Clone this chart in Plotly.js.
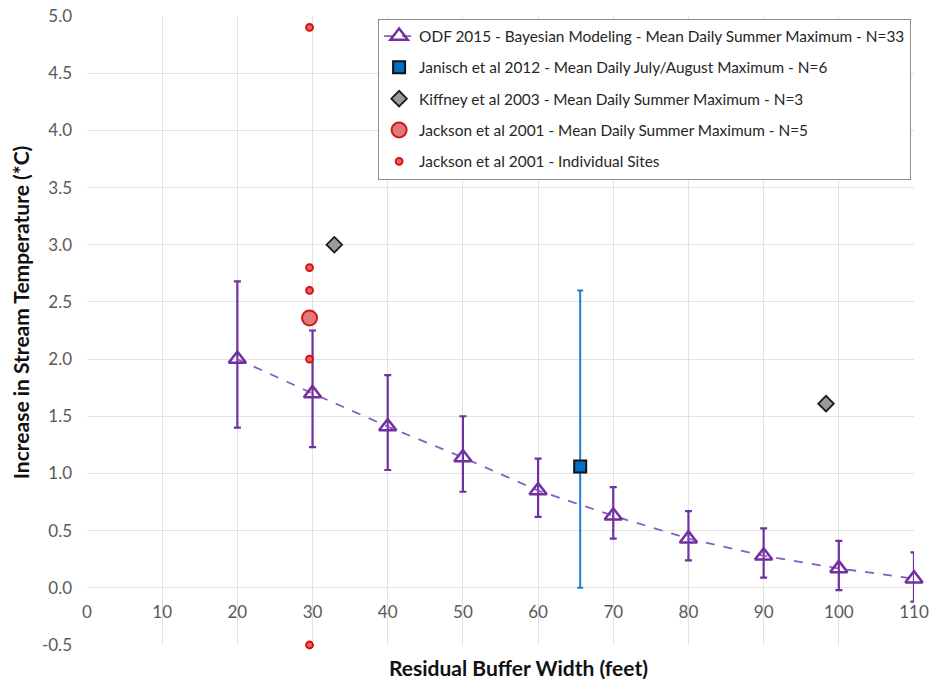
<!DOCTYPE html>
<html>
<head>
<meta charset="utf-8">
<script src="https://cdn.plot.ly/plotly-3.0.1.min.js"></script>
<style>html,body{margin:0;padding:0;background:#fff;}#chart{width:932px;height:683px;}</style>
</head>
<body>
<div id="chart"></div>
<script>
// ODF 2015 - Bayesian modeling
const odfX = [20, 30, 40, 50, 60, 70, 80, 90, 100, 110];
const odfMean = [2.00, 1.70, 1.41, 1.14, 0.85, 0.63, 0.43, 0.28, 0.17, 0.08];
const odfUpper = [2.68, 2.25, 1.86, 1.50, 1.13, 0.88, 0.67, 0.52, 0.41, 0.31];
const odfLower = [1.40, 1.23, 1.03, 0.84, 0.62, 0.43, 0.24, 0.09, -0.02, -0.12];

// Janisch et al 2012
const janischX = [65.6];
const janischMean = [1.06];
const janischUpper = [2.60];
const janischLower = [0.0];

// Kiffney et al 2003
const kiffneyX = [32.9, 98.3];
const kiffneyMean = [3.0, 1.61];

// Jackson et al 2001
const jacksonMeanX = [29.6];
const jacksonMeanY = [2.36];
const jacksonSitesX = [29.6, 29.6, 29.6, 29.6, 29.6];
const jacksonSitesY = [4.9, 2.8, 2.6, 2.0, -0.5];

const xTicks = [0, 10, 20, 30, 40, 50, 60, 70, 80, 90, 100, 110];
const yTicks = [-0.5, 0, 0.5, 1.0, 1.5, 2.0, 2.5, 3.0, 3.5, 4.0, 4.5, 5.0];

const legendNames = [
  'ODF 2015 - Bayesian Modeling - Mean Daily Summer Maximum - N=33',
  'Janisch et al 2012 - Mean Daily July/August Maximum - N=6',
  'Kiffney et al 2003 - Mean Daily Summer Maximum - N=3',
  'Jackson et al 2001 - Mean Daily Summer Maximum - N=5',
  'Jackson et al 2001 - Individual Sites'
];

const xTitle = 'Residual Buffer Width (feet)';
const yTitle = 'Increase in Stream Temperature (*C)';

const FONT = 'Lato, "Open Sans", sans-serif';

const traces = [
  {
    x: odfX, y: odfMean, type: 'scatter', mode: 'lines+markers',
    name: legendNames[0], legendgroup: 'g1',
    line: {color: '#8a5ac2', width: 1.8, dash: 'dash'},
    marker: {symbol: 'triangle-up-open', size: 15, color: '#7030A0', line: {width: 2.5, color: '#7030A0'}},
    error_y: {type: 'data', symmetric: false,
      array: odfUpper.map((u, i) => u - odfMean[i]),
      arrayminus: odfLower.map((l, i) => odfMean[i] - l),
      color: '#7030A0', thickness: 2.2, width: 3.5},
    cliponaxis: false
  },
  {
    x: janischX, y: janischMean, type: 'scatter', mode: 'markers',
    name: legendNames[1], legendgroup: 'g2',
    marker: {symbol: 'square', size: 12, color: '#0070C0', line: {width: 2, color: '#111111'}},
    error_y: {type: 'data', symmetric: false,
      array: janischUpper.map((u, i) => u - janischMean[i]),
      arrayminus: janischLower.map((l, i) => janischMean[i] - l),
      color: '#1f7fd0', thickness: 2, width: 3},
    cliponaxis: false
  },
  {
    x: kiffneyX, y: kiffneyMean, type: 'scatter', mode: 'markers',
    name: legendNames[2], legendgroup: 'g3',
    marker: {symbol: 'diamond', size: 12, color: '#9a9a9a', line: {width: 1.8, color: '#1a1a1a'}},
    cliponaxis: false
  },
  {
    x: jacksonMeanX, y: jacksonMeanY, type: 'scatter', mode: 'markers',
    name: legendNames[3], legendgroup: 'g4',
    marker: {symbol: 'circle', size: 15, color: '#e07a7a', line: {width: 2, color: '#d01818'}},
    cliponaxis: false
  },
  {
    x: jacksonSitesX, y: jacksonSitesY, type: 'scatter', mode: 'markers',
    name: legendNames[4], legendgroup: 'g5',
    marker: {symbol: 'circle', size: 7, color: '#e86060', line: {width: 1.8, color: '#d80c0c'}},
    cliponaxis: false
  }
];

const layout = {
  width: 932, height: 683,
  margin: {l: 87, r: 18, t: 16, b: 38},
  paper_bgcolor: '#ffffff', plot_bgcolor: '#ffffff',
  font: {family: FONT, color: '#595959', size: 15},
  showlegend: true,
  xaxis: {
    range: [0, 110], tickvals: xTicks, ticktext: xTicks.map(String),
    showgrid: true, gridcolor: '#e3e3e3', gridwidth: 1,
    zeroline: false, showline: false, ticks: '',
    anchor: 'free', position: 0.5 / 5.5,
    ticklabelstandoff: 12,
    tickfont: {family: FONT, size: 17, color: '#595959'}
  },
  yaxis: {
    range: [-0.5, 5.0], tickvals: yTicks, ticktext: yTicks.map(v => v.toFixed(1)),
    showgrid: true, gridcolor: '#e3e3e3', gridwidth: 1,
    zeroline: false, showline: false, ticks: '',
    ticklabelstandoff: 14,
    tickfont: {family: FONT, size: 17, color: '#595959'}
  },
  annotations: [
    {
      text: '<b>' + xTitle + '</b>', xref: 'paper', yref: 'paper',
      x: 0.522, y: 0, yshift: -22, xanchor: 'center', yanchor: 'middle', showarrow: false,
      font: {family: FONT, size: 21, color: '#111111'}
    },
    {
      text: '<b>' + yTitle + '</b>', xref: 'paper', yref: 'paper',
      x: -0.081, y: 0.529, xanchor: 'center', yanchor: 'middle', textangle: -90, showarrow: false,
      font: {family: FONT, size: 21, color: '#111111'}
    }
  ],
  legend: {
    x: 0.352, y: 0.996, xanchor: 'left', yanchor: 'top',
    bgcolor: '#ffffff', bordercolor: '#8c8c8c', borderwidth: 1,
    traceorder: 'grouped', tracegroupgap: 8.3,
    font: {family: FONT, size: 15.4, color: '#262626'}
  }
};

Plotly.newPlot('chart', traces, layout, {displayModeBar: false, staticPlot: true});
</script>
</body>
</html>
